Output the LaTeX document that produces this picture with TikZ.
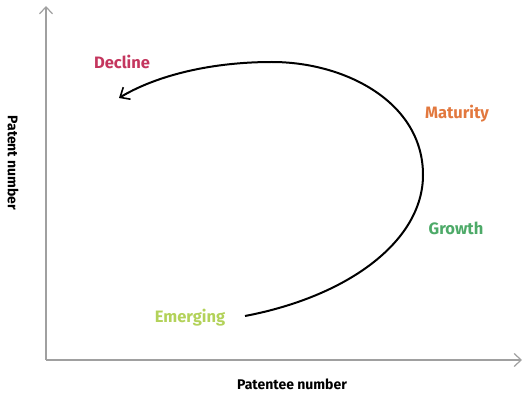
\documentclass[tikz,border=0pt]{standalone}
\usepackage{fontspec}
\setmainfont{Fira Sans}
\usetikzlibrary{arrows.meta}

\definecolor{declinecol}{HTML}{C4365E}
\definecolor{maturitycol}{HTML}{E2783E}
\definecolor{growthcol}{HTML}{4DAA68}
\definecolor{emergingcol}{HTML}{B3D25A}
\definecolor{axiscol}{HTML}{A0A0A0}

\begin{document}
\begin{tikzpicture}[x=1pt, y=-1pt,
    axis/.style={draw=axiscol, line width=1.6pt, -{Straight Barb[length=7pt, width=13pt, line width=1.2pt]}},
    stage/.style={font=\fontsize{16.5}{18}\selectfont\bfseries},
    axislabel/.style={font=\fontsize{14}{16}\selectfont\bfseries}]
    \useasboundingbox (0, 0) rectangle (523, 393);

    \coordinate (O) at (46, 360);
        \coordinate (Ytop) at (46, 6);
        \coordinate (Xend) at (522, 360);

    \draw [axis] (O) -- (Ytop);
    \draw [axis] (O) -- (Xend);

    \node [axislabel, rotate=-90] (ylab) at (13, 163) {Patent number};
    \node [axislabel] (xlab) at (292, 384) {Patentee number};

    \node [stage, text=declinecol] (decline) at (122, 62) {Decline};
    \node [stage, text=maturitycol] (maturity) at (457, 114) {Maturity};
    \node [stage, text=growthcol] (growth) at (456, 228) {Growth};
    \node [stage, text=emergingcol] (emerging) at (190, 318) {Emerging};

    \coordinate (start) at (245, 316);
        \coordinate (right) at (423, 175);
        \coordinate (top) at (272, 62);
    \coordinate (end) at (119, 98);

    \draw [line width=2pt, -{Straight Barb[length=8pt, width=14pt, line width=1.6pt]}]
        (start) .. controls (350, 296) and (423, 240) .. (right)
        .. controls (423, 102) and (345, 62) .. (top)
        .. controls (205, 62) and (152, 78) .. (end);
\end{tikzpicture}
\end{document}
